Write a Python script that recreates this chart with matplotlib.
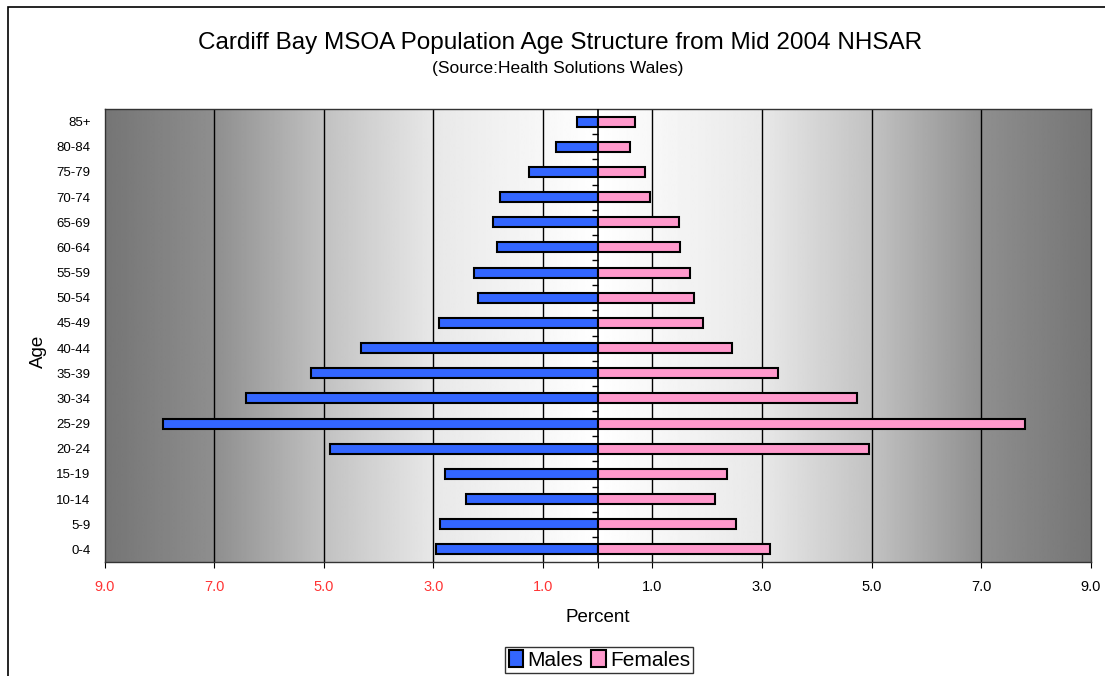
import numpy as np
import matplotlib
matplotlib.use("Agg")
import matplotlib.pyplot as plt
from matplotlib.patches import Rectangle

plt.rcParams['font.family'] = ['Liberation Sans', 'DejaVu Sans']

# données (pourcentage de la population)
ages = ['0-4', '5-9', '10-14', '15-19', '20-24', '25-29', '30-34', '35-39', '40-44',
        '45-49', '50-54', '55-59', '60-64', '65-69', '70-74', '75-79', '80-84', '85+']
males = [2.95, 2.88, 2.41, 2.79, 4.88, 7.94, 6.42, 5.24, 4.32,
         2.89, 2.18, 2.25, 1.84, 1.91, 1.78, 1.26, 0.75, 0.38]
females = [3.14, 2.53, 2.15, 2.37, 4.96, 7.81, 4.74, 3.29, 2.45,
           1.92, 1.76, 1.68, 1.51, 1.49, 0.95, 0.87, 0.59, 0.69]
xticks = [-9, -7, -5, -3, -1, 0, 1, 3, 5, 7, 9]

fig = plt.figure(figsize=(11.05, 6.76), dpi=100)
ax = fig.add_axes([0.0946, 0.1686, 0.8924, 0.6701])

# fond en dégradé gris (sombre aux bords, blanc au centre)
gx = np.linspace(-9, 9, 600)
shade = np.interp(np.abs(gx), [0, 1, 3, 5, 7, 9], [1.0, 0.97, 0.91, 0.76, 0.56, 0.46])
ax.imshow(shade[np.newaxis, :], extent=[-9, 9, -0.5, 17.5], aspect='auto',
          cmap='gray', vmin=0, vmax=1, zorder=0, interpolation='bilinear')

for v in [-7, -5, -3, -1, 1, 3, 5, 7]:
    ax.axvline(v, color='black', lw=1, zorder=1)

y = np.arange(len(ages))
ax.barh(y, [-m for m in males], height=0.4, color='#3366FF', edgecolor='black',
        lw=1.5, zorder=3, label='Males')
ax.barh(y, females, height=0.4, color='#FF99CC', edgecolor='black',
        lw=1.5, zorder=3, label='Females')

# axe central avec petites graduations entre les catégories
ax.axvline(0, color='black', lw=1.2, zorder=4)
ax.plot(np.zeros(len(ages) - 1), y[:-1] + 0.5, ls='none', marker=0, ms=4,
        mew=1, color='black', zorder=4)

ax.set_xlim(-9, 9)
ax.set_ylim(-0.5, 17.5)
ax.set_yticks(y)
ax.set_yticklabels(ages, fontsize=9.5)
ax.tick_params(axis='y', length=0, pad=10)
ax.set_xticks(xticks)
ax.set_xticklabels(['' if t == 0 else '%.1f' % abs(t) for t in xticks], fontsize=10.5)
ax.tick_params(axis='x', length=4, pad=9, direction='out')
for lab, t in zip(ax.get_xticklabels(), xticks):
    if t < 0:
        lab.set_color('#FF3333')

for s in ax.spines.values():
    s.set_color('#333333')
    s.set_linewidth(1)

ax.set_xlabel('Percent', fontsize=13.5, labelpad=11)
ax.set_ylabel('Age', fontsize=13.5)
ax.yaxis.set_label_coords(-0.058, 0.465)

fig.text(0.507, 0.937, 'Cardiff Bay MSOA Population Age Structure from Mid 2004 NHSAR',
         ha='center', va='center', fontsize=17.5)
fig.text(0.505, 0.898, '(Source:Health Solutions Wales)', ha='center', va='center',
         fontsize=12.5)

leg = ax.legend(loc='upper center', bbox_to_anchor=(0.5425, 1 - 647 / 676), bbox_transform=fig.transFigure,
                ncol=2, fontsize=15, frameon=True, fancybox=False, handlelength=0.7,
                handleheight=0.9, handletextpad=0.2, columnspacing=0.4, borderpad=0.15,
                borderaxespad=0)
leg.get_frame().set_edgecolor('black')
leg.get_frame().set_linewidth(1)

# cadre autour du graphique
fig.patches.append(Rectangle((8 / 1105, -0.05), 1.2, 1.05 - 7 / 676, transform=fig.transFigure,
                             fill=False, edgecolor='black', lw=1.2))

fig.savefig('out.png', dpi=100)
